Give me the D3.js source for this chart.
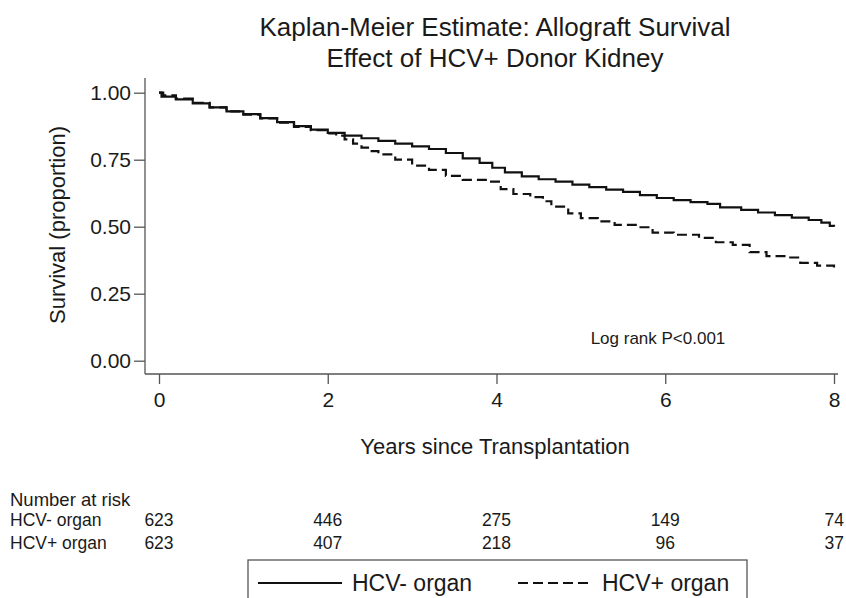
<!DOCTYPE html>
<html><head><meta charset="utf-8">
<script src="https://cdn.jsdelivr.net/npm/d3@7"></script>
<style>
html,body{margin:0;padding:0;background:#fff;}
svg text{font-family:"Liberation Sans",Arial,Helvetica,sans-serif;fill:#1a1a1a;}
</style></head>
<body>
<svg id="chart" width="846" height="598"></svg>
<script>
// ---- data ----
const titleLines = ["Kaplan-Meier Estimate: Allograft Survival", "Effect of HCV+ Donor Kidney"];
const xTicks = [0, 2, 4, 6, 8];
const yTicks = [0, 0.25, 0.5, 0.75, 1];
const groups = ["HCV- organ", "HCV+ organ"];
// time (years), survival proportion
const hcvNegTime = [0,0.03,0.2,0.4,0.6,0.8,1.0,1.2,1.4,1.6,1.8,2.0,2.2,2.4,2.6,2.8,3.0,3.2,3.4,3.6,3.8,3.95,4.1,4.3,4.5,4.7,4.9,5.1,5.3,5.5,5.7,5.9,6.1,6.3,6.5,6.65,6.9,7.1,7.3,7.5,7.7,7.85,7.95,8.0];
const hcvNegSurv = [1.0,0.985,0.975,0.96,0.945,0.93,0.92,0.905,0.89,0.875,0.862,0.85,0.84,0.83,0.82,0.81,0.80,0.79,0.775,0.755,0.738,0.72,0.703,0.688,0.677,0.668,0.657,0.648,0.638,0.63,0.618,0.607,0.599,0.592,0.585,0.572,0.563,0.553,0.543,0.534,0.525,0.515,0.503,0.50];
const hcvPosTime = [0,0.05,0.2,0.4,0.6,0.8,1.0,1.2,1.4,1.6,1.8,2.0,2.1,2.2,2.3,2.4,2.5,2.6,2.8,3.0,3.2,3.4,3.6,3.9,4.05,4.2,4.4,4.55,4.65,4.85,5.0,5.2,5.4,5.65,5.85,6.1,6.4,6.6,6.8,7.0,7.2,7.45,7.6,7.8,8.0];
const hcvPosSurv = [1.0,0.99,0.978,0.962,0.945,0.93,0.918,0.904,0.888,0.872,0.86,0.848,0.84,0.826,0.81,0.795,0.782,0.77,0.75,0.728,0.712,0.69,0.675,0.668,0.64,0.622,0.61,0.595,0.575,0.55,0.532,0.52,0.507,0.498,0.478,0.47,0.458,0.442,0.432,0.405,0.39,0.385,0.365,0.355,0.348];
const riskTimes = [0, 2, 4, 6, 8];
const riskNeg = [623, 446, 275, 149, 74];
const riskPos = [623, 407, 218, 96, 37];
const annotation = "Log rank P<0.001";

// ---- drawing ----
const svg = d3.select("#chart");
const x = d3.scaleLinear().domain([0, 8]).range([159, 834]);
const y = d3.scaleLinear().domain([0, 1]).range([360.7, 92.7]);
const axisX = 145, axisY = 374;
const axisColor = "#555";

// title
svg.append("text").attr("x", 495).attr("y", 36).attr("text-anchor", "middle")
  .style("font-size", "26px").text(titleLines[0]);
svg.append("text").attr("x", 495).attr("y", 67).attr("text-anchor", "middle")
  .style("font-size", "26px").text(titleLines[1]);

// y axis
const gy = svg.append("g").attr("transform", `translate(${axisX},0)`)
  .call(d3.axisLeft(y).tickValues(yTicks).tickFormat(d3.format(".2f")).tickSize(11).tickPadding(3));
gy.select(".domain").attr("d", `M0,78V${axisY}`).attr("stroke", axisColor).attr("stroke-width", 1.3);
gy.selectAll(".tick line").attr("stroke", axisColor).attr("stroke-width", 1.3);
gy.selectAll(".tick text").style("font-size", "21px").attr("fill", "#1a1a1a");

// x axis
const gx = svg.append("g").attr("transform", `translate(0,${axisY})`)
  .call(d3.axisBottom(x).tickValues(xTicks).tickFormat(d3.format("d")).tickSize(10).tickPadding(8));
gx.select(".domain").attr("d", `M${axisX},0H838`).attr("stroke", axisColor).attr("stroke-width", 1.3);
gx.selectAll(".tick line").attr("stroke", axisColor).attr("stroke-width", 1.3);
gx.selectAll(".tick text").style("font-size", "21px").attr("fill", "#1a1a1a");

// axis titles
svg.append("text").attr("transform", "translate(65,225) rotate(-90)").attr("text-anchor", "middle")
  .style("font-size", "22px").text("Survival (proportion)");
svg.append("text").attr("x", 495).attr("y", 454).attr("text-anchor", "middle")
  .style("font-size", "22px").text("Years since Transplantation");

// curves
const line = d3.line().x(d => x(d[0])).y(d => y(d[1])).curve(d3.curveStepAfter);
const negData = hcvNegTime.map((t, i) => [t, hcvNegSurv[i]]);
const posData = hcvPosTime.map((t, i) => [t, hcvPosSurv[i]]);
svg.append("path").datum(posData).attr("d", line).attr("fill", "none")
  .attr("stroke", "#111").attr("stroke-width", 2.2).attr("stroke-dasharray", "10,5");
svg.append("path").datum(negData).attr("d", line).attr("fill", "none")
  .attr("stroke", "#111").attr("stroke-width", 2.2);

// annotation
svg.append("text").attr("x", 658).attr("y", 344).attr("text-anchor", "middle")
  .style("font-size", "17px").text(annotation);

// risk table
svg.append("text").attr("x", 10).attr("y", 506).style("font-size", "18.5px").text("Number at risk");
[[groups[0], riskNeg, 526], [groups[1], riskPos, 549]].forEach(([name, vals, yy]) => {
  svg.append("text").attr("x", 10).attr("y", yy).style("font-size", "17.5px").text(name);
  svg.selectAll(null).data(vals).enter().append("text")
    .attr("x", (d, i) => x(riskTimes[i]))
    .attr("y", yy).attr("text-anchor", (d, i) => i === riskTimes.length - 1 ? "end" : "middle")
    .attr("dx", (d, i) => i === riskTimes.length - 1 ? 10 : 0)
    .style("font-size", "17.5px").text(d => d);
});

// legend
const lg = svg.append("g");
lg.append("rect").attr("x", 248).attr("y", 560).attr("width", 499).attr("height", 50)
  .attr("fill", "none").attr("stroke", axisColor).attr("stroke-width", 1.3);
lg.append("line").attr("x1", 258).attr("x2", 342).attr("y1", 583).attr("y2", 583)
  .attr("stroke", "#111").attr("stroke-width", 2.2);
lg.append("text").attr("x", 352).attr("y", 591).style("font-size", "23px").text(groups[0]);
lg.append("line").attr("x1", 518).attr("x2", 590).attr("y1", 583).attr("y2", 583)
  .attr("stroke", "#111").attr("stroke-width", 2.2).attr("stroke-dasharray", "10,5");
lg.append("text").attr("x", 602).attr("y", 591).style("font-size", "23px").text(groups[1]);
</script>
</body></html>
